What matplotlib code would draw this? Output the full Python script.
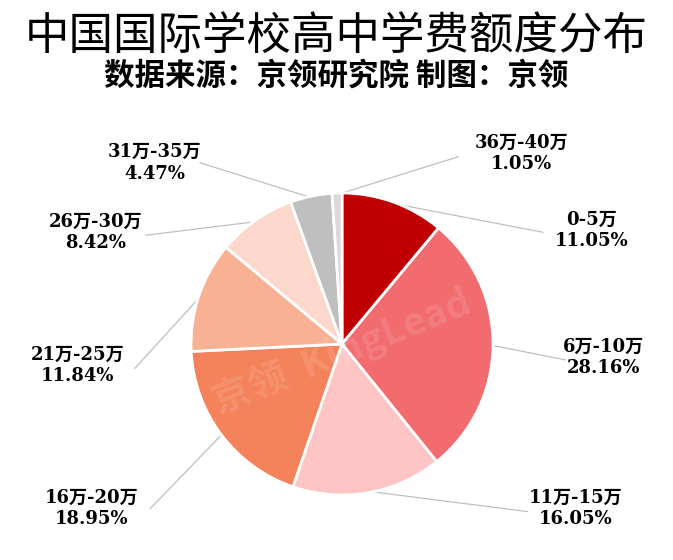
import matplotlib.pyplot as plt
import numpy as np

plt.rcParams['font.family'] = ['Noto Sans CJK SC', 'DejaVu Sans']

# data
ranges = ['0-5万', '6万-10万', '11万-15万', '16万-20万',
          '21万-25万', '26万-30万', '31万-35万', '36万-40万']
shares = [11.05, 28.16, 16.05, 18.95, 11.84, 8.42, 4.47, 1.05]
colors = ['#C00000', '#F16B6F', '#FFC5C5', '#F4825A',
          '#F8B193', '#FCD7CB', '#BFBFBF', '#D9D9D9']

# label layout (data units, pie radius = 1)
label_xy = [(1.65, 0.75), (1.73, -0.09), (1.55, -1.09), (-1.66, -1.09),
            (-1.75, -0.14), (-1.63, 0.74), (-1.24, 1.20), (1.19, 1.26)]
line_end = [(1.33, 0.74), (1.48, -0.105), (1.23, -1.11), (-1.27, -1.09),
            (-1.37, -0.16), (-1.30, 0.72), (-0.94, 1.20), (0.77, 1.24)]

fig = plt.figure(figsize=(6.73, 5.6), dpi=100)
cx, cy, r = 342, 344, 151
W, H = 673, 560
# axes so that one data unit = r pixels, centred on the pie
half_w, half_h = 2.3, 1.4
ax = fig.add_axes([(cx - half_w * r) / W, (H - cy - half_h * r) / H,
                   2 * half_w * r / W, 2 * half_h * r / H])

wedges, _ = ax.pie(shares, colors=colors, startangle=90, counterclock=False,
                   radius=1, wedgeprops=dict(edgecolor='white', linewidth=2))
ax.set_xlim(-half_w, half_w)
ax.set_ylim(-half_h, half_h)
ax.set_aspect('equal')
ax.axis('off')

for w, name, val, (tx, ty), (lx, ly) in zip(wedges, ranges, shares, label_xy, line_end):
    ang = np.deg2rad((w.theta1 + w.theta2) / 2)
    sx, sy = np.cos(ang) * 0.99, np.sin(ang) * 0.99
    ax.plot([sx, lx], [sy, ly], color='#BFBFBF', lw=0.9, zorder=0)
    ax.text(tx, ty, f'{name}\n{val:.2f}%', ha='center', va='center',
            fontsize=13, fontweight='bold', linespacing=1.25,
            family=['DejaVu Serif', 'Noto Sans CJK SC'])

# faint watermark
ax.text(0.0, -0.05, '京领  KingLead', rotation=22, ha='center', va='center',
        fontsize=28, color='white', alpha=0.12, fontweight='bold')

fig.text(0.5, 1 - 36 / H, '中国国际学校高中学费额度分布', ha='center', va='center',
         fontsize=32)
fig.text(0.5, 1 - 76 / H, '数据来源：京领研究院 制图：京领', ha='center', va='center',
         fontsize=22, fontweight='bold')

fig.savefig('out.png', dpi=100, facecolor='white')
